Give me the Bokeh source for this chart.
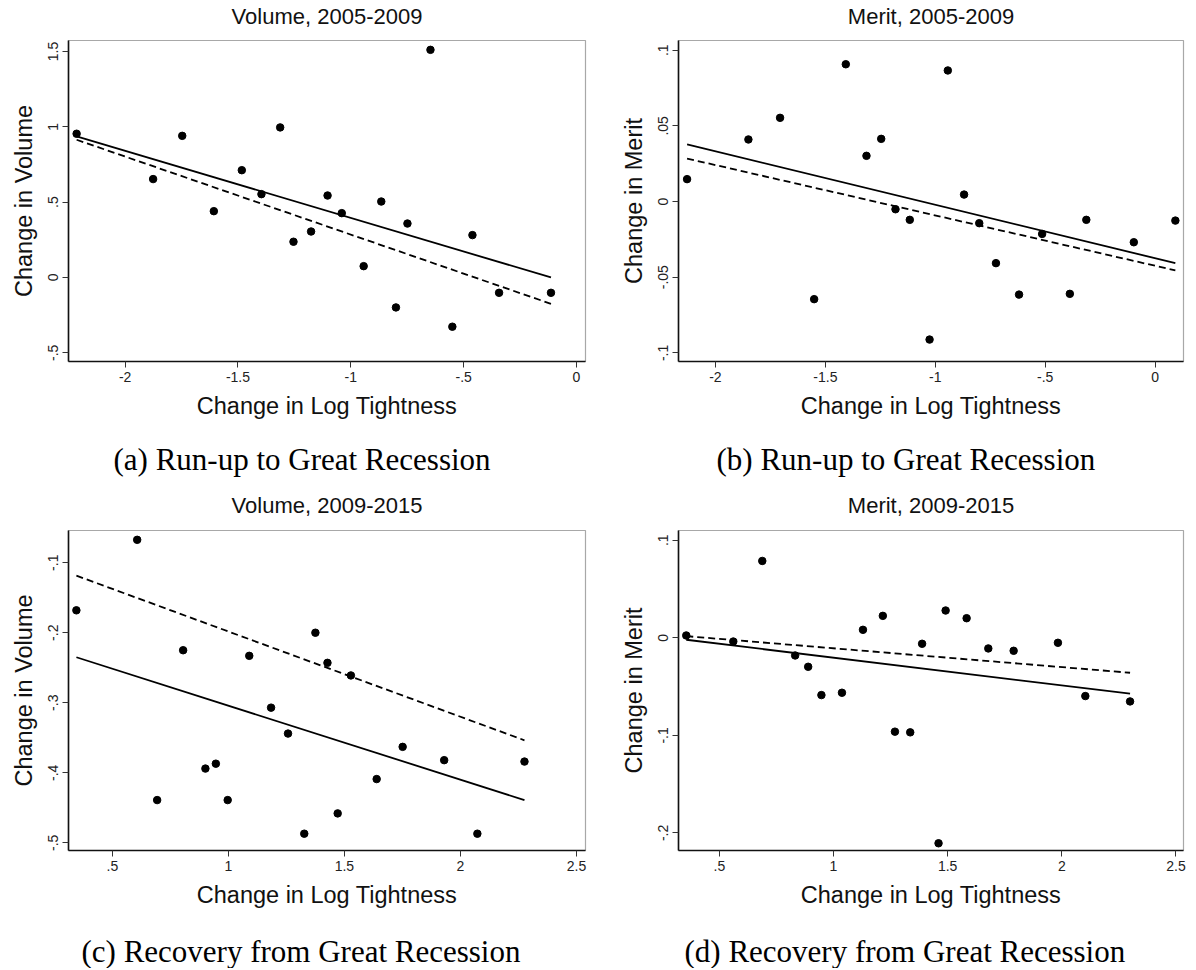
from bokeh.plotting import figure
from bokeh.layouts import column, row
from bokeh.models import FixedTicker, Title, Range1d
from bokeh.embed import file_html
from bokeh.resources import INLINE

# ---------------- data ----------------
# (a) Volume, 2005-2009
a_x = [-2.215, -1.876, -1.747, -1.607, -1.483, -1.396, -1.313, -1.254, -1.176, -1.103,
       -1.040, -0.943, -0.865, -0.800, -0.749, -0.647, -0.550, -0.461, -0.343, -0.113]
a_y = [0.954, 0.653, 0.940, 0.440, 0.712, 0.553, 0.996, 0.237, 0.305, 0.544,
       0.427, 0.075, 0.504, -0.199, 0.358, 1.511, -0.327, 0.281, -0.102, -0.102]
a_fit_x = [-2.215, -0.113]
a_fit_solid = [0.936, 0.0]
a_fit_dash = [0.914, -0.175]

# (b) Merit, 2005-2009
b_x = [-2.129, -1.850, -1.706, -1.551, -1.407, -1.313, -1.246, -1.181, -1.116, -1.026,
       -0.943, -0.869, -0.800, -0.724, -0.619, -0.514, -0.388, -0.313, -0.097, 0.092]
b_y = [0.0148, 0.0410, 0.0553, -0.0645, 0.0907, 0.0302, 0.0414, -0.0051, -0.0121, -0.0912,
       0.0866, 0.0046, -0.0143, -0.0407, -0.0615, -0.0214, -0.0610, -0.0121, -0.0269, -0.0126]
b_fit_x = [-2.129, 0.092]
b_fit_solid = [0.0377, -0.0407]
b_fit_dash = [0.0284, -0.0455]

# (c) Volume, 2009-2015
c_x = [0.345, 0.607, 0.693, 0.805, 0.901, 0.946, 0.997, 1.090, 1.184, 1.257,
       1.327, 1.375, 1.427, 1.471, 1.528, 1.639, 1.751, 1.930, 2.073, 2.276]
c_y = [-0.168, -0.0673, -0.439, -0.225, -0.394, -0.387, -0.439, -0.233, -0.307, -0.344,
       -0.487, -0.200, -0.243, -0.458, -0.261, -0.409, -0.363, -0.382, -0.487, -0.384]
c_fit_x = [0.345, 2.276]
c_fit_solid = [-0.235, -0.439]
c_fit_dash = [-0.1185, -0.3536]

# (d) Merit, 2009-2015
d_x = [0.355, 0.561, 0.688, 0.832, 0.889, 0.947, 1.037, 1.129, 1.216, 1.269,
       1.336, 1.388, 1.460, 1.491, 1.583, 1.678, 1.789, 1.983, 2.103, 2.299]
d_y = [0.0024, -0.0038, 0.0788, -0.0181, -0.0297, -0.0587, -0.0563, 0.0082, 0.0225, -0.0962,
       -0.0969, -0.0061, -0.2106, 0.0280, 0.0201, -0.0109, -0.0133, -0.0051, -0.0597, -0.0652]
d_fit_x = [0.355, 2.299]
d_fit_solid = [-0.0020, -0.0573]
d_fit_dash = [0.0017, -0.0358]

# tick values and labels
x_ticks_run = [-2, -1.5, -1, -0.5, 0]
x_labels_run = ["-2", "-1.5", "-1", "-.5", "0"]
x_ticks_rec = [0.5, 1, 1.5, 2, 2.5]
x_labels_rec = [".5", "1", "1.5", "2", "2.5"]
a_yticks = [-0.5, 0, 0.5, 1, 1.5]
a_ylabels = ["-.5", "0", ".5", "1", "1.5"]
b_yticks = [-0.1, -0.05, 0, 0.05, 0.1]
b_ylabels = ["-.1", "-.05", "0", ".05", ".1"]
c_yticks = [-0.5, -0.4, -0.3, -0.2, -0.1]
c_ylabels = ["-.5", "-.4", "-.3", "-.2", "-.1"]
d_yticks = [-0.2, -0.1, 0, 0.1]
d_ylabels = ["-.2", "-.1", "0", ".1"]

titles = ["Volume, 2005-2009", "Merit, 2005-2009", "Volume, 2009-2015", "Merit, 2009-2015"]
captions = ["(a) Run-up to Great Recession", "(b) Run-up to Great Recession",
            "(c) Recovery from Great Recession", "(d) Recovery from Great Recession"]
ylabels = ["Change in Volume", "Change in Merit", "Change in Volume", "Change in Merit"]
xlabel = "Change in Log Tightness"

SANS = "Liberation Sans"
SERIF = "Liberation Serif"


def spacer(n):
    return Title(text=" ", text_font_size="1px", standoff=n)


def panel(title, caption, ylab, xs, ys, fx, fs, fd, xt, xl, yt, yl, xr, yr,
          w, h, left, right, top, bottom, cap_offset, title_gap, cap_gap):
    p = figure(width=w, height=h, output_backend="svg", toolbar_location=None,
               x_range=Range1d(*xr), y_range=Range1d(*yr),
               min_border_left=left, min_border_right=right,
               min_border_top=top, min_border_bottom=bottom)
    p.title = None

    p.xgrid.visible = False
    p.ygrid.visible = False
    p.outline_line_color = "#a8a8a8"
    p.outline_line_width = 1.2
    p.background_fill_color = "white"
    p.border_fill_color = "white"

    for ax in (p.xaxis[0], p.yaxis[0]):
        ax.axis_line_color = "#111111"
        ax.axis_line_width = 1.6
        ax.major_tick_line_color = "#333333"
        ax.major_tick_in = 0
        ax.major_tick_out = 6
        ax.minor_tick_line_color = None
        ax.major_label_text_font = SANS
        ax.major_label_text_font_size = "14px"
        ax.major_label_text_color = "#222222"
        ax.axis_label_text_font = SANS
        ax.axis_label_text_font_size = "23.5px"
        ax.axis_label_text_font_style = "normal"
        ax.axis_label_text_color = "#111111"

    p.xaxis[0].ticker = FixedTicker(ticks=xt)
    p.xaxis[0].major_label_overrides = {t: s for t, s in zip(xt, xl)}
    p.xaxis[0].axis_label = xlabel
    p.xaxis[0].major_label_standoff = 4
    p.xaxis[0].axis_label_standoff = 8

    p.yaxis[0].ticker = FixedTicker(ticks=yt)
    p.yaxis[0].major_label_overrides = {t: s for t, s in zip(yt, yl)}
    p.yaxis[0].major_label_orientation = "vertical"
    p.yaxis[0].axis_label = ylab
    p.yaxis[0].major_label_standoff = 4
    p.yaxis[0].axis_label_standoff = 9

    p.line(fx, fs, line_color="black", line_width=1.8)
    p.line(fx, fd, line_color="black", line_width=1.8, line_dash="7 4")
    p.scatter(xs, ys, size=7.5, fill_color="black", line_color="black")

    # title above the frame (with a gap), caption below the x axis (with a gap)
    p.add_layout(spacer(title_gap), "above")
    p.add_layout(Title(text=title, align="center", text_font=SANS, text_font_size="22px",
                       text_font_style="normal", text_color="#111111", standoff=0), "above")
    p.add_layout(spacer(cap_gap), "below")
    p.add_layout(Title(text=caption, align="left", offset=cap_offset, text_font=SERIF,
                       text_font_size="31px", text_font_style="normal", text_color="black",
                       standoff=0), "below")
    return p


LW, RW = 595, 595
TH, BH = 490, 478

pa = panel(titles[0], captions[0], ylabels[0], a_x, a_y, a_fit_x, a_fit_solid, a_fit_dash,
           x_ticks_run, x_labels_run, a_yticks, a_ylabels, (-2.251, 0.040), (-0.558, 1.573),
           LW, TH, 68, 10, 40, 129, 45, 9, 15)
pb = panel(titles[1], captions[1], ylabels[1], b_x, b_y, b_fit_x, b_fit_solid, b_fit_dash,
           x_ticks_run, x_labels_run, b_yticks, b_ylabels, (-2.168, 0.129), (-0.1057, 0.1064),
           RW, TH, 83, 7, 40, 129, 38, 9, 15)
pc = panel(titles[2], captions[2], ylabels[2], c_x, c_y, c_fit_x, c_fit_solid, c_fit_dash,
           x_ticks_rec, x_labels_rec, c_yticks, c_ylabels, (0.311, 2.539), (-0.511, -0.054),
           LW, BH, 68, 10, 40, 116, 13, 10, 18)
pd = panel(titles[3], captions[3], ylabels[3], d_x, d_y, d_fit_x, d_fit_solid, d_fit_dash,
           x_ticks_rec, x_labels_rec, d_yticks, d_ylabels, (0.321, 2.533), (-0.218, 0.110),
           RW, BH, 83, 7, 40, 116, 6, 10, 18)

layout = column(row(pa, pb), row(pc, pd))
open("out.html", "w").write(file_html(layout, INLINE))
